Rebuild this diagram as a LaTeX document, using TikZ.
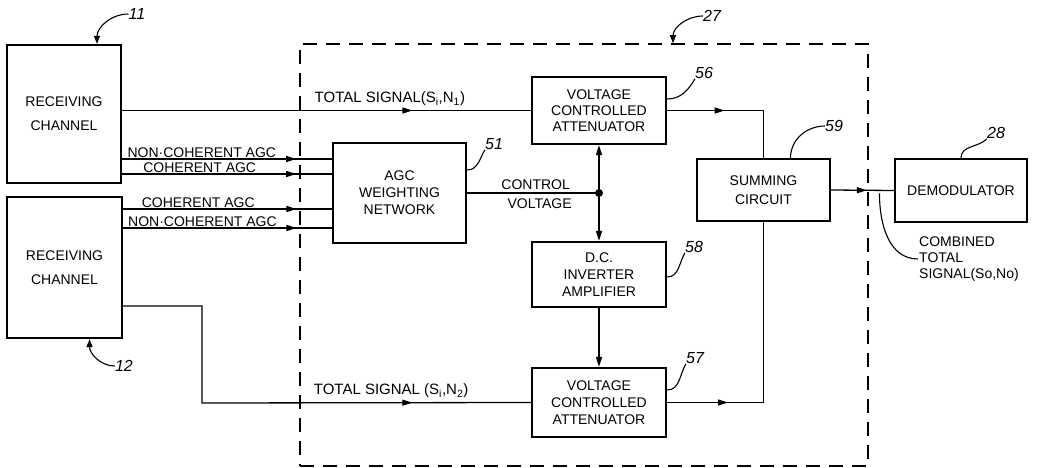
\documentclass[tikz,border=0pt]{standalone}
\usepackage{fontspec}
\setmainfont{Liberation Sans}
\usetikzlibrary{arrows.meta,positioning,calc,decorations.markings}

\begin{document}
\begin{tikzpicture}[
  x=1pt,y=-1pt,
  blk/.style={draw,line width=2.2pt,align=center,font=\fontsize{14}{17}\selectfont,inner sep=2pt},
  conn/.style={line width=1.3pt},
  tipped/.style={-{Triangle[length=10pt,width=6pt]}},
  midarr/.style={postaction={decorate},decoration={markings,mark=at position #1 with {\arrow{Triangle[length=10pt,width=6pt]}}}},
  lbl/.style={font=\fontsize{14}{16}\selectfont,inner sep=1pt},
  siglbl/.style={font=\fontsize{15}{17}\selectfont,inner sep=1pt},
  refno/.style={font=\itshape\fontsize{16}{18}\selectfont,inner sep=0pt},
  lead/.style={line width=1.1pt},
  leadtip/.style={lead,-{Triangle[length=8pt,width=6pt]}}
]
\useasboundingbox (0,0) rectangle (1037,468);
\node[draw,line width=1.5pt,dash pattern=on 14pt off 9pt,minimum width=568pt,minimum height=422pt] (unit) at (584,255) {};
\node[blk,minimum width=114pt,minimum height=138pt,font=\fontsize{14}{24}\selectfont] (ch1) at (64,114) {RECEIVING\\CHANNEL};
\node[blk,minimum width=115pt,minimum height=141pt,font=\fontsize{14}{24}\selectfont] (ch2) at (64.5,267.5) {RECEIVING\\CHANNEL};
\node[blk,minimum width=133pt,minimum height=100pt] (agc) at (399.5,193) {AGC\\WEIGHTING\\NETWORK};
\node[blk,minimum width=134pt,minimum height=67pt,font=\fontsize{14}{16}\selectfont] (vca1) at (599,110.5) {VOLTAGE\\CONTROLLED\\ATTENUATOR};
\node[blk,minimum width=134pt,minimum height=65pt] (dcinv) at (599,274.5) {D.C.\\INVERTER\\AMPLIFIER};
\node[blk,minimum width=134pt,minimum height=69pt,font=\fontsize{14}{17}\selectfont] (vca2) at (599,402.5) {VOLTAGE\\CONTROLLED\\ATTENUATOR};
\node[blk,minimum width=133pt,minimum height=62pt,font=\fontsize{14}{19}\selectfont] (sum) at (763.5,190) {SUMMING\\CIRCUIT};
\node[blk,minimum width=132pt,minimum height=63pt] (demod) at (961,190.5) {DEMODULATOR};
\draw[conn,midarr=0.71] (vca1.west -| ch1.east) -- node[siglbl,above=3pt,pos=0.655]{TOTAL SIGNAL(S\textsubscript{i},N\textsubscript{1})} (vca1.west);
\draw[conn,midarr=0.83] (ch1.east |- 0,159) -- node[lbl,above,pos=0.38]{NON·COHERENT AGC} (agc.west |- 0,159);
\draw[conn,midarr=0.83] (ch1.east |- 0,174) -- node[lbl,above,pos=0.37]{COHERENT AGC} (agc.west |- 0,174);
\draw[conn,midarr=0.83] (ch2.east |- 0,209) -- node[lbl,above,pos=0.36]{COHERENT AGC} (agc.west |- 0,209);
\draw[conn,midarr=0.83] (ch2.east |- 0,228) -- node[lbl,above,pos=0.38]{NON·COHERENT AGC} (agc.west |- 0,228);
\draw[conn,midarr=0.765] ([yshift=-38.5]ch2.east) -| (202,403) -- node[siglbl,above=3pt,pos=0.575]{TOTAL SIGNAL (S\textsubscript{i},N\textsubscript{2})} (vca2.west);
\coordinate (junc) at (vca1.south |- agc.east);
\draw[conn] (agc.east) -- node[lbl,above=2pt,pos=0.52]{CONTROL} node[lbl,below=4pt,pos=0.55]{VOLTAGE} (junc);
\draw[conn,{Triangle[length=10pt,width=6pt]}-{Triangle[length=10pt,width=6pt]}] (vca1.south) -- (dcinv.north);
\fill (junc) circle (4pt);
\draw[conn,tipped] (dcinv.south) -- (vca2.north);
\draw[conn,midarr=0.40] (vca1.east) -| (sum.north);
\draw[conn,midarr=0.22] (vca2.east) -| (sum.south);
\draw[conn,midarr=0.57] (sum.east) -- (demod.west);
\coordinate (tap) at ($(sum.east)!0.77!(demod.west)$);
\node[lbl,align=left,anchor=west,font=\fontsize{14}{16}\selectfont] (comb) at (918,259) {COMBINED\\TOTAL\\SIGNAL(So,No)};
\draw[lead] ([yshift=-3]tap) to[out=-90,in=180] (comb.west);
\node[refno] (n11) at (137,14) {11};
\draw[leadtip] (n11.west) to[out=180,in=90] ([xshift=33]ch1.north);
\node[refno] (n12) at (124,366) {12};
\draw[leadtip] (n12.west) to[out=180,in=-90] ([xshift=25]ch2.south);
\node[refno] (n27) at (712,16) {27};
\draw[leadtip] (n27.west) to[out=180,in=90] ([xshift=89]unit.north);
\node[refno] (n56) at (704,73) {56};
\draw[lead] ([yshift=11.5]vca1.east) to[out=0,in=240] (n56.south west);
\node[refno] (n51) at (494,144) {51};
\draw[lead] ([yshift=23]agc.east) to[out=0,in=240] (n51.south west);
\node[refno] (n58) at (694,247) {58};
\draw[lead] ([yshift=-2.5]dcinv.east) to[out=0,in=240] (n58.south west);
\node[refno] (n57) at (695,358) {57};
\draw[lead] ([yshift=12.5]vca2.east) to[out=0,in=240] (n57.south west);
\node[refno] (n59) at (834,126) {59};
\draw[lead] ([xshift=27]sum.north) to[out=90,in=180] (n59.west);
\node[refno] (n28) at (996,133) {28};
\draw[lead] (demod.north) to[out=90,in=225] (n28.south west);
\end{tikzpicture}
\end{document}
